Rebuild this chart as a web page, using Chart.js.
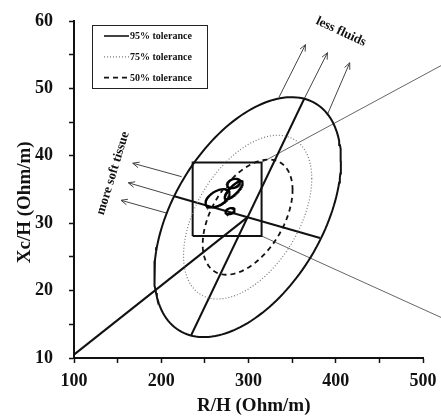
<!DOCTYPE html>
<html>
<head>
<meta charset="utf-8">
<script src="https://cdn.jsdelivr.net/npm/chart.js@4.4.1/dist/chart.umd.min.js"></script>
<style>
  html, body { margin: 0; padding: 0; background: #fff; }
  #wrap { width: 441px; height: 418px; }
</style>
</head>
<body>
<div id="wrap"><canvas id="c" width="441" height="418"></canvas></div>
<script>
// Axis ranges and labelled ticks
const xRange = [100, 500];
const yRange = [10, 60];
const xTickLabels = [100, 200, 300, 400, 500];
const yTickLabels = [10, 20, 30, 40, 50, 60];

// Reference tolerance ellipses (95%, 75%, 50%): centre, spread of R/H and Xc/H, correlation
const toleranceLabels = ['95% tolerance', '75% tolerance', '50% tolerance'];
const toleranceCenterR = 299;
const toleranceCenterXc = 30.9;
const toleranceSpreadR = [107, 73.5, 51.5];
const toleranceSpreadXc = [17.8, 12.15, 8.55];
const toleranceCorr = [0.47, 0.47, 0.47];

// Group mean confidence ellipses
const groupCenterR = [264.5, 282.8, 283.0, 278.8];
const groupCenterXc = [33.7, 35.9, 34.9, 31.8];
const groupSpreadR = [13.8, 7.4, 10.3, 5.2];
const groupSpreadXc = [1.35, 0.7, 1.35, 0.45];
const groupCorr = [0.5, 0.3, 0.8, 0.3];

// Vector lines
const phaseLineR = [100, 299];
const phaseLineXc = [10.5, 30.9];
const majorAxisR = [234, 364];
const majorAxisXc = [13.3, 48.5];
const minorAxisR = [382, 215];
const minorAxisXc = [27.8, 34.0];

// Zoom box and its connectors
const boxR = [236, 315, 315, 236, 236];
const boxXc = [28.1, 28.1, 39.0, 39.0, 28.1];
const connectorUpperR = [315, 521];
const connectorUpperXc = [39.0, 53.4];
const connectorLowerR = [315, 521];
const connectorLowerXc = [28.1, 16.0];

// Direction arrows
const fluidArrowR = [[335, 365.3], [364, 390.5], [390, 416]];
const fluidArrowXc = [[48.7, 56.5], [48.5, 55.3], [46.0, 53.8]];
const tissueArrowR = [[223.4, 167.3], [215, 162.2], [206.2, 153.9]];
const tissueArrowXc = [[36.9, 38.9], [34.0, 36.0], [31.5, 33.4]];

const SERIF = '"Liberation Serif", "Times New Roman", serif';

function pairs(xs, ys) {
  return xs.map((x, i) => ({ x: x, y: ys[i] }));
}

function ellipse(cx, cy, sx, sy, rho) {
  const pts = [];
  const k = Math.sqrt(1 - rho * rho);
  const n = 160;
  for (let i = 0; i <= n; i++) {
    const t = 2 * Math.PI * i / n;
    pts.push({ x: cx + sx * Math.cos(t), y: cy + sy * (rho * Math.cos(t) + k * Math.sin(t)) });
  }
  return pts;
}

const lineBase = { showLine: true, pointRadius: 0, pointHoverRadius: 0, fill: false, tension: 0 };
const toleranceStyles = [
  { borderColor: '#111', borderWidth: 2, borderDash: [] },
  { borderColor: '#777', borderWidth: 1.2, borderDash: [1, 2] },
  { borderColor: '#111', borderWidth: 1.8, borderDash: [5, 4] }
];

const datasets = [];
toleranceLabels.forEach((label, i) => {
  datasets.push(Object.assign({}, lineBase, toleranceStyles[i], {
    label: label,
    legendEntry: true,
    data: ellipse(toleranceCenterR, toleranceCenterXc, toleranceSpreadR[i], toleranceSpreadXc[i], toleranceCorr[i])
  }));
});
groupCenterR.forEach((cx, i) => {
  datasets.push(Object.assign({}, lineBase, {
    borderColor: '#000', borderWidth: 2.2,
    data: ellipse(cx, groupCenterXc[i], groupSpreadR[i], groupSpreadXc[i], groupCorr[i])
  }));
});
[[phaseLineR, phaseLineXc], [majorAxisR, majorAxisXc], [minorAxisR, minorAxisXc]].forEach(([r, xc]) => {
  datasets.push(Object.assign({}, lineBase, { borderColor: '#111', borderWidth: 2, data: pairs(r, xc) }));
});
datasets.push(Object.assign({}, lineBase, { borderColor: '#111', borderWidth: 2, data: pairs(boxR, boxXc) }));
[[connectorUpperR, connectorUpperXc], [connectorLowerR, connectorLowerXc]].forEach(([r, xc]) => {
  datasets.push(Object.assign({}, lineBase, { borderColor: '#666', borderWidth: 1, clip: false, data: pairs(r, xc) }));
});
fluidArrowR.forEach((r, i) => {
  datasets.push(Object.assign({}, lineBase, { borderColor: '#444', borderWidth: 1, clip: false, arrowHead: true, data: pairs(r, fluidArrowXc[i]) }));
});
tissueArrowR.forEach((r, i) => {
  datasets.push(Object.assign({}, lineBase, { borderColor: '#444', borderWidth: 1, clip: false, arrowHead: true, data: pairs(r, tissueArrowXc[i]) }));
});

// Open arrow heads at the end of flagged datasets
const arrowHeads = {
  id: 'arrowHeads',
  afterDatasetsDraw(chart) {
    const ctx = chart.ctx;
    chart.data.datasets.forEach((ds, i) => {
      if (!ds.arrowHead) return;
      const pts = chart.getDatasetMeta(i).data;
      const a = pts[pts.length - 2], b = pts[pts.length - 1];
      const ang = Math.atan2(b.y - a.y, b.x - a.x);
      const len = 7, spread = 0.42;
      ctx.save();
      ctx.strokeStyle = ds.borderColor;
      ctx.lineWidth = ds.borderWidth;
      ctx.beginPath();
      ctx.moveTo(b.x - len * Math.cos(ang - spread), b.y - len * Math.sin(ang - spread));
      ctx.lineTo(b.x, b.y);
      ctx.lineTo(b.x - len * Math.cos(ang + spread), b.y - len * Math.sin(ang + spread));
      ctx.stroke();
      ctx.restore();
    });
  }
};

// Boxed legend in the upper-left corner of the plot
const boxedLegend = {
  id: 'boxedLegend',
  afterDraw(chart) {
    const ctx = chart.ctx;
    const area = chart.chartArea;
    const x0 = area.left + 18, y0 = area.top + 4, w = 115, h = 63;
    ctx.save();
    ctx.fillStyle = '#fff';
    ctx.fillRect(x0, y0, w, h);
    ctx.strokeStyle = '#222';
    ctx.lineWidth = 1;
    ctx.strokeRect(x0 + 0.5, y0 + 0.5, w, h);
    const entries = chart.data.datasets.filter(d => d.legendEntry);
    entries.forEach((ds, i) => {
      const y = y0 + 11 + i * 20.8;
      ctx.strokeStyle = ds.borderColor;
      ctx.lineWidth = Math.min(ds.borderWidth, 1.6);
      ctx.setLineDash(ds.borderDash || []);
      ctx.beginPath();
      ctx.moveTo(x0 + 12, y);
      ctx.lineTo(x0 + 37, y);
      ctx.stroke();
      ctx.setLineDash([]);
      ctx.fillStyle = '#111';
      ctx.font = 'bold 10px ' + SERIF;
      ctx.textBaseline = 'middle';
      ctx.textAlign = 'left';
      ctx.fillText(ds.label, x0 + 38, y + 0.5);
    });
    ctx.restore();
  }
};

// Axis titles and direction captions
const captions = {
  id: 'captions',
  afterDraw(chart) {
    const ctx = chart.ctx;
    const xs = chart.scales.x, ys = chart.scales.y;
    ctx.save();
    ctx.fillStyle = '#111';
    ctx.textAlign = 'center';
    ctx.textBaseline = 'middle';
    ctx.font = 'bold 19px ' + SERIF;
    ctx.fillText('R/H (Ohm/m)', xs.getPixelForValue(306), 406);
    ctx.save();
    ctx.translate(25, ys.getPixelForValue(33.1));
    ctx.rotate(-Math.PI / 2);
    ctx.fillText('Xc/H (Ohm/m)', 0, 0);
    ctx.restore();
    ctx.font = 'bold 13px ' + SERIF;
    ctx.save();
    ctx.translate(xs.getPixelForValue(406), ys.getPixelForValue(58.4));
    ctx.rotate(25 * Math.PI / 180);
    ctx.fillText('less fluids', 0, 0);
    ctx.restore();
    ctx.save();
    ctx.translate(xs.getPixelForValue(144.7), ys.getPixelForValue(37.4));
    ctx.rotate(-73 * Math.PI / 180);
    ctx.fillText('more soft tissue', 0, 0);
    ctx.restore();
    ctx.restore();
  }
};

new Chart(document.getElementById('c'), {
  type: 'scatter',
  data: { datasets: datasets },
  options: {
    responsive: false,
    animation: false,
    events: [],
    layout: { padding: { top: 21, right: 18, left: 0, bottom: 0 } },
    plugins: { legend: { display: false }, tooltip: { enabled: false } },
    scales: {
      x: {
        type: 'linear', min: xRange[0], max: xRange[1],
        afterFit: s => { s.height = 60; s.paddingLeft = 0; s.paddingRight = 0; },
        ticks: {
          stepSize: 50, autoSkip: false, maxRotation: 0, color: '#111', padding: 8,
          font: { family: SERIF, size: 18, weight: 'bold' },
          callback: v => xTickLabels.includes(v) ? String(v) : ''
        },
        grid: { display: true, drawOnChartArea: false, drawTicks: true, tickLength: 5, tickColor: '#111', tickWidth: 1.5 },
        border: { display: true, color: '#111', width: 2 }
      },
      y: {
        type: 'linear', min: yRange[0], max: yRange[1],
        afterFit: s => { s.width = 74; s.paddingTop = 0; s.paddingBottom = 0; },
        ticks: {
          stepSize: 5, autoSkip: false, color: '#111', padding: 16,
          font: { family: SERIF, size: 18, weight: 'bold' },
          callback: v => yTickLabels.includes(v) ? String(v) : ''
        },
        grid: { display: true, drawOnChartArea: false, drawTicks: true, tickLength: 5, tickColor: '#111', tickWidth: 1.5 },
        border: { display: true, color: '#111', width: 2 }
      }
    }
  },
  plugins: [arrowHeads, boxedLegend, captions]
});
</script>
</body>
</html>
